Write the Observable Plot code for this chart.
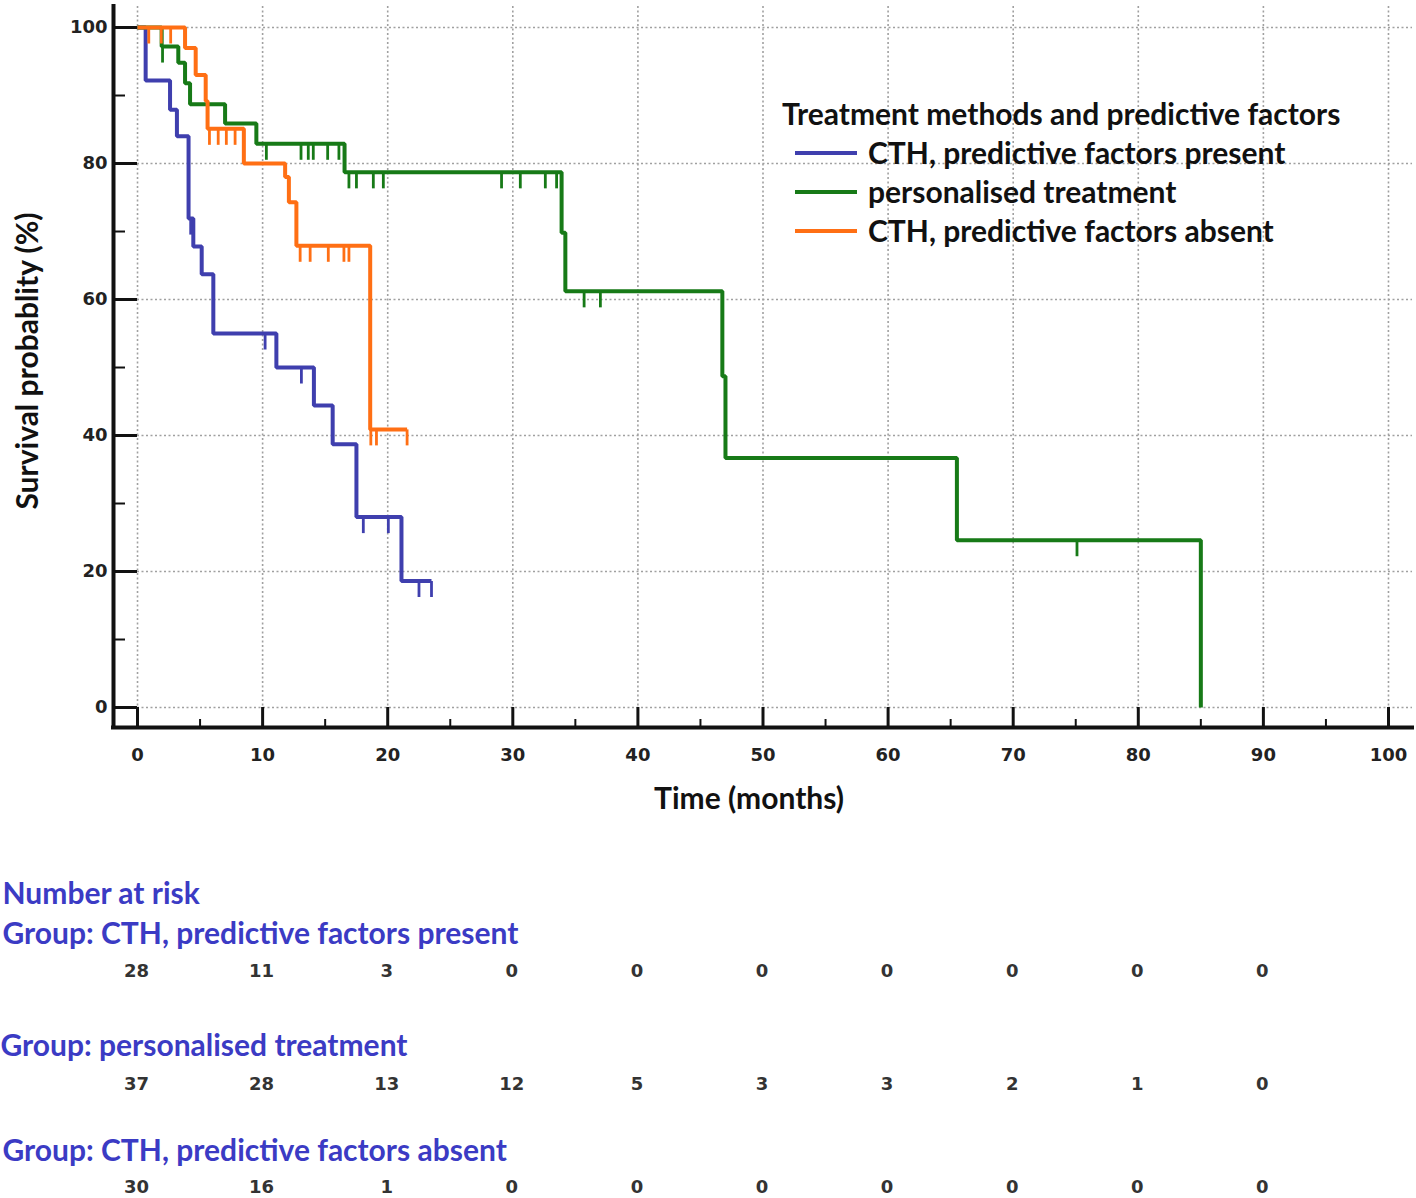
<!DOCTYPE html>
<html><head><meta charset="utf-8">
<script src="https://cdn.jsdelivr.net/npm/d3@7"></script>
<script src="https://cdn.jsdelivr.net/npm/@observablehq/plot@0.6"></script>
<style>
body{margin:0;background:#fff;}
#wrap{position:relative;width:1416px;height:1198px;}
#legend{position:absolute;left:782px;top:94px;font-family:Lato,"Open Sans",sans-serif;font-weight:700;font-size:30px;line-height:39px;color:#111;white-space:nowrap;}
#legend .row{position:relative;padding-left:86px;}
#legend .sw{position:absolute;left:13px;top:18px;width:62px;height:4px;}
</style></head><body><div id="wrap"></div>
<script>
// ---- data ----
const groups = ["CTH, predictive factors present", "personalised treatment", "CTH, predictive factors absent"];
const colors = ["#3f3fae", "#177a17", "#ff6f14"];

const presentTimes = [0, 0.65, 2.6, 3.15, 4.08, 4.46, 5.13, 6.06, 11.1, 14.1, 15.6, 17.5, 21.1, 23.5];
const presentSurv  = [100, 92.2, 87.9, 84.0, 71.9, 67.8, 63.7, 55.0, 50.0, 44.4, 38.7, 28.0, 18.6, 18.6];
const presentCensored = [4.25, 10.2, 13.1, 18.05, 20.05, 22.5, 23.5];

const personalTimes = [0, 1.93, 3.26, 3.8, 4.2, 7.0, 9.5, 16.55, 33.9, 34.2, 46.75, 47.0, 65.5, 85.0];
const personalSurv  = [100, 97.2, 94.8, 91.8, 88.7, 85.9, 82.9, 78.7, 69.8, 61.2, 48.7, 36.7, 24.6, 0];
const personalCensored = [2.0, 10.3, 13.07, 13.65, 14.05, 15.2, 16.1, 16.9, 17.5, 18.85, 19.65, 29.1, 30.6, 32.6, 33.5, 35.7, 37.0, 75.1];

const absentTimes = [0, 3.8, 4.65, 5.45, 5.6, 8.5, 11.8, 12.1, 12.7, 18.6, 21.55];
const absentSurv  = [100, 97.0, 93.0, 89.2, 85.1, 80.0, 78.0, 74.3, 67.9, 40.9, 40.9];
const absentCensored = [0.9, 1.9, 2.65, 5.75, 6.45, 7.1, 7.8, 13.0, 13.8, 15.25, 16.5, 16.9, 18.65, 19.1, 21.55];

const riskTimes = [0, 10, 20, 30, 40, 50, 60, 70, 80, 90];
const riskPresent  = [28, 11, 3, 0, 0, 0, 0, 0, 0, 0];
const riskPersonal = [37, 28, 13, 12, 5, 3, 3, 2, 1, 0];
const riskAbsent   = [30, 16, 1, 0, 0, 0, 0, 0, 0, 0];

const xTicks = [0, 10, 20, 30, 40, 50, 60, 70, 80, 90, 100];
const xMinorTicks = [5, 15, 25, 35, 45, 55, 65, 75, 85, 95];
const yTicks = [0, 20, 40, 60, 80, 100];
const yMinorTicks = [10, 30, 50, 70, 90];

const xLabel = "Time (months)";
const yLabel = "Survival probablity (%)";
const legendTitle = "Treatment methods and predictive factors";
const riskTitle = "Number at risk";

// ---- build tables ----
const series = [
  {g: groups[0], t: presentTimes, s: presentSurv, c: presentCensored},
  {g: groups[1], t: personalTimes, s: personalSurv, c: personalCensored},
  {g: groups[2], t: absentTimes, s: absentSurv, c: absentCensored}
];
function survAt(times, surv, t) {
  let v = surv[0];
  for (let i = 0; i < times.length; i++) if (times[i] <= t) v = surv[i];
  return v;
}
const curves = series.flatMap(d => d.t.map((t, i) => ({group: d.g, time: t, surv: d.s[i]})));
const censors = series.flatMap(d => d.c.map(t => ({group: d.g, time: t, surv: survAt(d.t, d.s, t)})));

// ---- layout ----
const W = 1416, H = 1198;
const mL = 113, mR = 4, mT = 6, mB = 471;
const frameW = W - mL - mR, frameH = H - mT - mB;
const xDomain = [-1.92, 101.92];
const yDomain = [-2.94, 103.09];

const censorSymbol = {draw(ctx) { ctx.moveTo(0, 0); ctx.lineTo(0, 16); }};
const tickFont = {fontFamily: "DejaVu Sans", fontWeight: "bold", fontSize: 18, fill: "#222"};
const blueTitle = {fontFamily: "Lato", fontWeight: "bold", fontSize: 30, fill: "#3b3bc4", textAnchor: "start", frameAnchor: "bottom-left"};
const riskFont = {fontFamily: "DejaVu Sans", fontWeight: "bold", fontSize: 18, fill: "#333", frameAnchor: "bottom", dx: -1};

const plot = Plot.plot({
  width: W, height: H,
  marginLeft: mL, marginRight: mR, marginTop: mT, marginBottom: mB,
  x: {domain: xDomain, axis: null},
  y: {domain: yDomain, axis: null},
  color: {domain: groups, range: colors},
  style: {background: "white", fontFamily: "Lato"},
  marks: [
    // grid
    Plot.ruleX(xTicks, {x: d => d, insetBottom: 20, stroke: "#a0a0a0", strokeWidth: 1.6, strokeDasharray: "2,2.5"}),
    Plot.ruleY(yTicks, {y: d => d, insetLeft: 24, stroke: "#a0a0a0", strokeWidth: 1.6, strokeDasharray: "2,2.5"}),
    // axis ticks
    Plot.ruleX(xTicks, {x: d => d, insetTop: frameH - 20, stroke: "#111", strokeWidth: 3}),
    Plot.ruleX(xMinorTicks, {x: d => d, insetTop: frameH - 8, stroke: "#111", strokeWidth: 2}),
    Plot.ruleY(yTicks, {y: d => d, insetRight: frameW - 24, stroke: "#111", strokeWidth: 3}),
    Plot.ruleY(yMinorTicks, {y: d => d, insetRight: frameW - 12, stroke: "#111", strokeWidth: 2}),
    // spines
    Plot.ruleX([xDomain[0]], {stroke: "#111", strokeWidth: 4, strokeLinecap: "square"}),
    Plot.ruleY([yDomain[0]], {stroke: "#111", strokeWidth: 4, strokeLinecap: "square"}),
    // tick labels
    Plot.text(xTicks, {x: d => d, text: d => String(d), frameAnchor: "bottom", dy: 33, ...tickFont}),
    Plot.text(yTicks, {y: d => d, text: d => String(d), frameAnchor: "left", dx: -6, textAnchor: "end", ...tickFont}),
    // axis titles
    Plot.text([xLabel], {frameAnchor: "bottom", dx: -14, dy: 81, fontFamily: "Lato", fontWeight: "bold", fontSize: 30, fill: "#111"}),
    Plot.text([yLabel], {frameAnchor: "left", textAnchor: "middle", dx: -85, dy: -6, rotate: -90, fontFamily: "Lato", fontWeight: "bold", fontSize: 30, fill: "#111"}),
    // KM curves
    Plot.line(curves, {x: "time", y: "surv", z: "group", stroke: "group", curve: "step-after", strokeWidth: 4, strokeLinejoin: "miter", strokeLinecap: "butt"}),
    Plot.dot(censors, {x: "time", y: "surv", stroke: "group", fill: "none", symbol: censorSymbol, r: 5, strokeWidth: 2.8}),
    // number at risk
    Plot.text([riskTitle], {dx: -111, dy: 176, ...blueTitle}),
    Plot.text(["Group: " + groups[0]], {dx: -111, dy: 216, ...blueTitle}),
    Plot.text(riskTimes, {x: d => d, text: (d, i) => String(riskPresent[i]), dy: 249, ...riskFont}),
    Plot.text(["Group: " + groups[1]], {dx: -113, dy: 328, ...blueTitle}),
    Plot.text(riskTimes, {x: d => d, text: (d, i) => String(riskPersonal[i]), dy: 362, ...riskFont}),
    Plot.text(["Group: " + groups[2]], {dx: -111, dy: 433, ...blueTitle}),
    Plot.text(riskTimes, {x: d => d, text: (d, i) => String(riskAbsent[i]), dy: 465, ...riskFont})
  ]
});
const wrap = document.getElementById("wrap");
wrap.appendChild(plot);

// legend
const legend = document.createElement("div");
legend.id = "legend";
const title = document.createElement("div");
title.textContent = legendTitle;
legend.appendChild(title);
groups.forEach((g, i) => {
  const row = document.createElement("div");
  row.className = "row";
  const sw = document.createElement("span");
  sw.className = "sw";
  sw.style.background = colors[i];
  row.appendChild(sw);
  row.appendChild(document.createTextNode(g));
  legend.appendChild(row);
});
wrap.appendChild(legend);
</script>
</body></html>
